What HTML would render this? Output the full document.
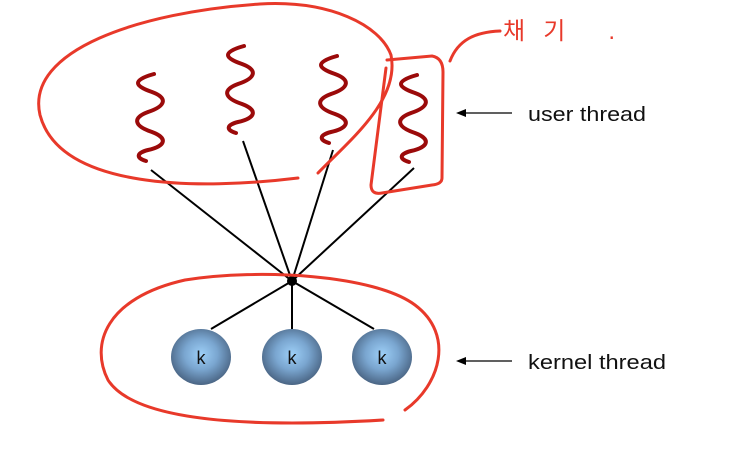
<!DOCTYPE html>
<html><head><meta charset="utf-8"><style>
body{margin:0;background:#fff;}
svg{display:block;}
text{font-family:"Liberation Sans","Noto Sans CJK KR",sans-serif;}
</style></head><body>
<svg width="730" height="458" viewBox="0 0 730 458">
<defs>
<radialGradient id="kg" cx="50%" cy="45%" r="55%">
<stop offset="0" stop-color="#9dcff7"/><stop offset="0.5" stop-color="#7aa6d0"/><stop offset="1" stop-color="#4a6584"/>
</radialGradient>
<path id="sq" d="M6,0 C-16,6 -14,12 4,18 C20,24 18,32 0,38 C-16,44 -14,52 4,58 C20,64 18,72 0,76 C-12,79 -12,84 -2,87" fill="none" stroke="#9b0a0a" stroke-width="4" stroke-linecap="round"/>
</defs>
<g stroke="#000" stroke-width="2">
<line x1="151" y1="170" x2="292" y2="281"/>
<line x1="243" y1="141" x2="292" y2="281"/>
<line x1="333" y1="150" x2="292" y2="281"/>
<line x1="414" y1="168" x2="292" y2="281"/>
<line x1="292" y1="281" x2="211" y2="329"/>
<line x1="292" y1="281" x2="292" y2="329"/>
<line x1="292" y1="281" x2="374" y2="329"/>
</g>
<circle cx="292" cy="281" r="5" fill="#000"/>
<use href="#sq" x="148" y="74"/>
<use href="#sq" x="238" y="46"/>
<use href="#sq" x="331" y="56"/>
<use href="#sq" x="411" y="75"/>
<g>
<ellipse cx="201" cy="357" rx="30" ry="28" fill="url(#kg)"/>
<ellipse cx="292" cy="357" rx="30" ry="28" fill="url(#kg)"/>
<ellipse cx="382" cy="357" rx="30" ry="28" fill="url(#kg)"/>
<text x="201" y="364" font-size="18" text-anchor="middle" fill="#111">k</text>
<text x="292" y="364" font-size="18" text-anchor="middle" fill="#111">k</text>
<text x="382" y="364" font-size="18" text-anchor="middle" fill="#111">k</text>
</g>
<g fill="none" stroke="#e8392a" stroke-width="3" stroke-linecap="round">
<path d="M298,178 C200,190 60,190 40,115 C25,50 140,12 260,4 C330,0 380,25 391,55 C400,100 350,140 318,173"/>
<path d="M387,60 L432,56 Q443,58 443,72 L442,178 Q442,184 432,185 L382,193 Q371,195 371,185 L386,68"/>
<path d="M450,61 C458,40 475,32 500,31"/>
<path d="M405,410 C440,385 455,335 415,305 C375,275 260,268 185,280 C105,298 90,345 108,380 C140,430 300,425 383,420"/>
</g>
<text x="503" y="39" font-size="24" fill="#e8392a" textLength="112" lengthAdjust="spacing">채기 .</text>
<g>
<line x1="512" y1="113" x2="464" y2="113" stroke="#000" stroke-width="1.3"/>
<path d="M456,113 L466,109 L466,117 Z" fill="#000"/>
<text x="528" y="121" font-size="20" fill="#111" textLength="118" lengthAdjust="spacingAndGlyphs">user thread</text>
</g>
<g>
<line x1="512" y1="361" x2="464" y2="361" stroke="#000" stroke-width="1.3"/>
<path d="M456,361 L466,357 L466,365 Z" fill="#000"/>
<text x="528" y="369" font-size="20" fill="#111" textLength="138" lengthAdjust="spacingAndGlyphs">kernel thread</text>
</g>
</svg>
</body></html>
